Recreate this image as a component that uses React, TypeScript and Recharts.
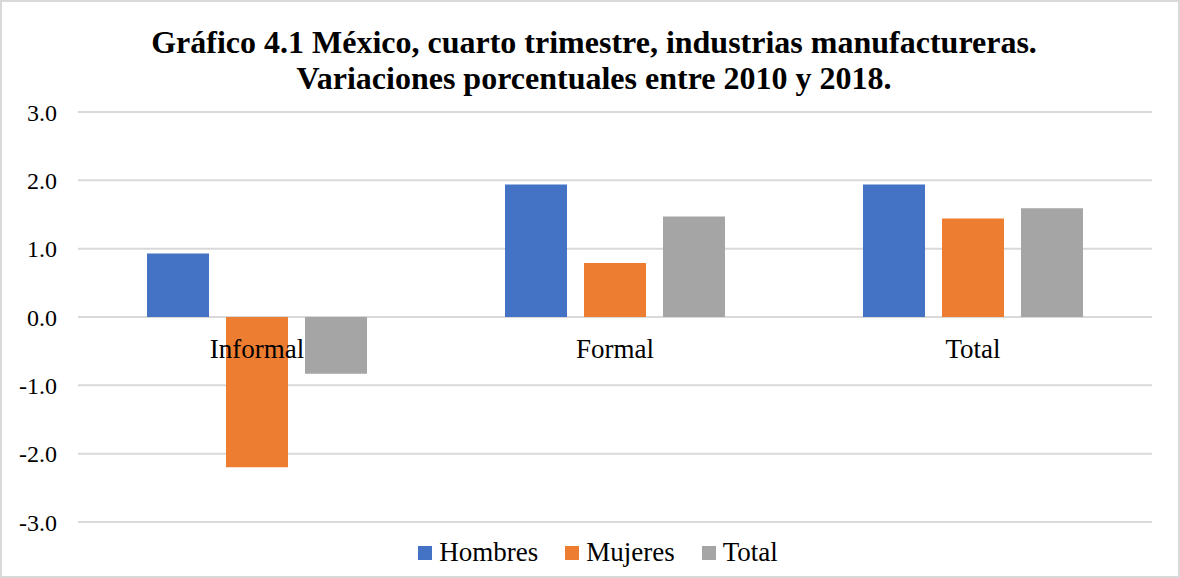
import React from 'react';
import { BarChart, Bar, XAxis, YAxis, CartesianGrid } from 'recharts';

const categories = ['Informal', 'Formal', 'Total'];
const hombres = [0.93, 1.94, 1.94];
const mujeres = [-2.2, 0.79, 1.44];
const total = [-0.83, 1.47, 1.59];
const yTicks = [-3, -2, -1, 0, 1, 2, 3];

const series = [
  { key: 'hombres', name: 'Hombres', color: '#4472C4' },
  { key: 'mujeres', name: 'Mujeres', color: '#ED7D31' },
  { key: 'total', name: 'Total', color: '#A5A5A5' },
];

const data = categories.map((c, i) => ({
  name: c,
  hombres: hombres[i],
  mujeres: mujeres[i],
  total: total[i],
}));

const W = 1180;
const H = 578;
const TOP = 112;
const PLOT_H = 410;
const X_AXIS_H = 30;
const FONT = '"Liberation Serif", "Times New Roman", serif';

// category labels sit just under the zero line, like Excel's "next to axis"
const CategoryTick = (props: any) => {
  const { x, payload } = props;
  return (
    <text
      x={x}
      y={TOP + PLOT_H / 2 + 41}
      textAnchor="middle"
      fontFamily={FONT}
      fontSize={27}
      fill="#000"
    >
      {payload.value}
    </text>
  );
};

export default function App() {
  return (
    <div
      style={{
        position: 'absolute',
        left: 0,
        top: 0,
        width: W,
        height: H,
        boxSizing: 'border-box',
        border: '2px solid #D9D9D9',
        background: '#fff',
        fontFamily: FONT,
      }}
    >
      <div
        style={{
          position: 'absolute',
          left: 0,
          top: 22,
          width: W - 4 + 8,
          textAlign: 'center',
          fontWeight: 'bold',
          fontSize: 32,
          lineHeight: '36px',
          color: '#000',
        }}
      >
        Gráfico 4.1 México, cuarto trimestre, industrias manufactureras.
        <br />
        Variaciones porcentuales entre 2010 y 2018.
      </div>
      <div style={{ position: 'absolute', left: -2, top: -2 }}>
        <BarChart
          width={W}
          height={H}
          data={data}
          margin={{ top: TOP, right: 28, left: 0, bottom: H - TOP - PLOT_H - X_AXIS_H }}
          barSize={62}
          barGap={17}
        >
          <CartesianGrid vertical={false} stroke="#D9D9D9" strokeWidth={2} />
          <YAxis
            domain={[-3, 3]}
            ticks={yTicks}
            width={78}
            axisLine={false}
            tickLine={false}
            tickSize={0}
            tickMargin={21}
            tickFormatter={(v: number) => v.toFixed(1)}
            tick={{ fontFamily: FONT, fontSize: 24, fill: '#000' }}
            interval={0}
          />
          {series.map((s) => (
            <Bar key={s.key} dataKey={s.key} name={s.name} fill={s.color} isAnimationActive={false} />
          ))}
          <XAxis
            dataKey="name"
            axisLine={false}
            tickLine={false}
            height={X_AXIS_H}
            tick={<CategoryTick />}
            interval={0}
          />
        </BarChart>
      </div>
      <div
        style={{
          position: 'absolute',
          left: 0,
          width: W - 4 + 16,
          top: 535,
          display: 'flex',
          justifyContent: 'center',
          alignItems: 'center',
          fontSize: 27,
          color: '#000',
        }}
      >
        {series.map((s, i) => (
          <div key={s.key} style={{ display: 'flex', alignItems: 'center', marginLeft: i ? 27 : 0 }}>
            <span style={{ width: 14, height: 14, background: s.color, display: 'inline-block', marginRight: 7 }} />
            <span>{s.name}</span>
          </div>
        ))}
      </div>
    </div>
  );
}
